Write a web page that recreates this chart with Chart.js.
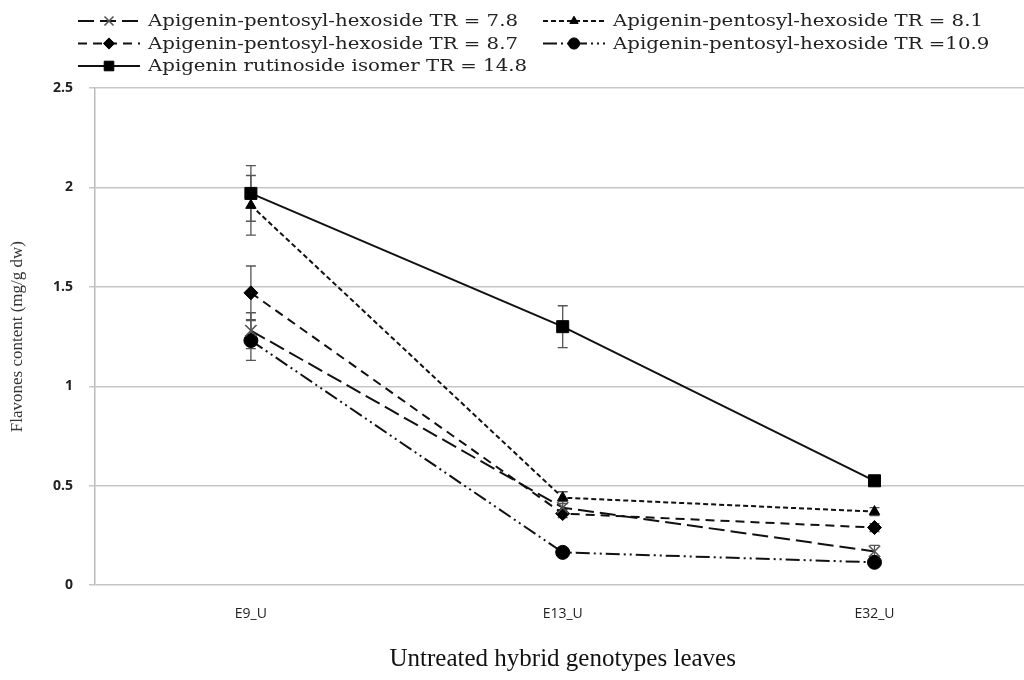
<!DOCTYPE html>
<html>
<head>
<meta charset="utf-8">
<script src="https://cdn.jsdelivr.net/npm/chart.js@4"></script>
<style>
  html, body { margin: 0; padding: 0; background: #fff; overflow: hidden; }
  #wrap { width: 1040px; height: 680px; }
</style>
</head>
<body>
<div id="wrap"><canvas id="chart"></canvas></div>
<script>
// values (mg/g dw)
const genotypes = ['E9_U', 'E13_U', 'E32_U'];
const yTicks = [0, 0.5, 1, 1.5, 2, 2.5];

const names = [
  'Apigenin-pentosyl-hexoside TR = 7.8',
  'Apigenin-pentosyl-hexoside TR = 8.1',
  'Apigenin-pentosyl-hexoside TR = 8.7',
  'Apigenin-pentosyl-hexoside TR =10.9',
  'Apigenin rutinoside isomer TR = 14.8'
];

const tr78 = [1.28, 0.39, 0.17];
const tr78Err = [0.09, 0.03, 0.03];
const tr81 = [1.91, 0.44, 0.37];
const tr81Err = [0.15, 0.03, 0.02];
const tr87 = [1.47, 0.36, 0.29];
const tr87Err = [0.135, 0.02, 0.02];
const tr109 = [1.23, 0.165, 0.115];
const tr109Err = [0.1, 0.01, 0.015];
const tr148 = [1.97, 1.30, 0.525];
const tr148Err = [0.14, 0.105, 0.02];

function series(label, data, errors, dash, style, radius, extra) {
  return Object.assign({
    label: label,
    data: data,
    errors: errors,
    borderColor: '#111',
    borderWidth: 2,
    borderDash: dash,
    pointStyle: style,
    pointRadius: radius,
    pointHoverRadius: radius,
    pointBackgroundColor: '#000',
    pointBorderColor: '#000',
    pointBorderWidth: 1,
    fill: false,
    tension: 0
  }, extra || {});
}

const errorBars = {
  id: 'errorBars',
  beforeDatasetsDraw(chart) {
    const ctx = chart.ctx;
    const y = chart.scales.y;
    ctx.save();
    ctx.strokeStyle = '#555';
    ctx.lineWidth = 1.3;
    chart.data.datasets.forEach((ds, i) => {
      chart.getDatasetMeta(i).data.forEach((pt, j) => {
        const top = y.getPixelForValue(ds.data[j] + ds.errors[j]);
        const bot = y.getPixelForValue(ds.data[j] - ds.errors[j]);
        ctx.beginPath();
        ctx.moveTo(pt.x, top); ctx.lineTo(pt.x, bot);
        ctx.moveTo(pt.x - 5, top); ctx.lineTo(pt.x + 5, top);
        ctx.moveTo(pt.x - 5, bot); ctx.lineTo(pt.x + 5, bot);
        ctx.stroke();
      });
    });
    ctx.restore();
  }
};

// excel style legend: line sample with the marker in the middle
const sampleLegend = {
  id: 'sampleLegend',
  afterDraw(chart, args, opts) {
    const ctx = chart.ctx;
    ctx.save();
    ctx.font = opts.font;
    const sx = opts.textWidth / ctx.measureText(chart.data.datasets[0].label).width;
    chart.data.datasets.forEach((ds, i) => {
      const x = opts.left + (i % 2) * opts.colWidth;
      const y = opts.top + Math.floor(i / 2) * opts.rowHeight;
      ctx.strokeStyle = '#111';
      ctx.lineWidth = 2;
      ctx.setLineDash(ds.borderDash);
      ctx.beginPath();
      ctx.moveTo(x, y);
      ctx.lineTo(x + opts.sampleWidth, y);
      ctx.stroke();
      ctx.setLineDash([]);
      ctx.fillStyle = ds.pointBackgroundColor;
      ctx.strokeStyle = ds.pointBorderColor;
      ctx.lineWidth = ds.pointBorderWidth;
      Chart.helpers.drawPoint(ctx, {
        pointStyle: ds.pointStyle,
        radius: ds.pointRadius * 0.8,
        borderWidth: ds.pointBorderWidth,
        rotation: 0
      }, x + opts.sampleWidth / 2, y);
      ctx.save();
      ctx.translate(x + opts.sampleWidth + opts.gap, y + 1);
      ctx.scale(sx, 1);
      ctx.fillStyle = '#222';
      ctx.textBaseline = 'middle';
      ctx.fillText(ds.label, 0, 0);
      ctx.restore();
    });
    ctx.restore();
  }
};

new Chart(document.getElementById('chart'), {
  type: 'line',
  data: {
    labels: genotypes,
    datasets: [
      series(names[0], tr78, tr78Err, [16, 6], 'crossRot', 8,
        { pointBorderColor: '#555', pointBorderWidth: 1.6, pointBackgroundColor: 'rgba(0,0,0,0)' }),
      series(names[1], tr81, tr81Err, [5, 3], 'triangle', 6),
      series(names[2], tr87, tr87Err, [9, 6], 'rectRot', 7),
      series(names[3], tr109, tr109Err, [14, 4, 2, 4, 2, 4], 'circle', 7),
      series(names[4], tr148, tr148Err, [], 'rect', 8.5)
    ]
  },
  options: {
    responsive: true,
    maintainAspectRatio: false,
    animation: false,
    layout: { padding: { top: 88, right: 8, bottom: 6, left: 0 } },
    plugins: {
      legend: { display: false },
      tooltip: { enabled: false },
      sampleLegend: {
        left: 78, top: 21, colWidth: 465, rowHeight: 22.5,
        sampleWidth: 62, gap: 8, textWidth: 370, font: '16px "DejaVu Serif"'
      }
    },
    scales: {
      x: {
        offset: true,
        grid: { display: false, drawTicks: false, offset: true },
        border: { display: false },
        ticks: { padding: 20, color: '#222', font: { family: 'Open Sans', size: 14 } },
        title: {
          display: true,
          text: 'Untreated hybrid genotypes leaves',
          color: '#111',
          font: { family: 'Liberation Serif', size: 25 },
          padding: { top: 2, bottom: 0 }
        }
      },
      y: {
        min: 0,
        max: 2.5,
        afterFit(scale) { scale.width = 95; },
        afterBuildTicks(scale) { scale.ticks = yTicks.map(v => ({ value: v })); },
        border: { display: true, color: '#bbb', width: 1.5 },
        grid: { color: '#c6c6c6', lineWidth: 1.5, tickLength: 6 },
        ticks: {
          padding: 16,
          color: '#222',
          font: { family: 'Open Sans', size: 14, weight: 'bold' },
          callback: (v) => String(v)
        },
        title: {
          display: true,
          text: 'Flavones content (mg/g dw)',
          color: '#333',
          font: { family: 'Liberation Serif', size: 17 },
          padding: { top: 7, bottom: 0 }
        }
      }
    }
  },
  plugins: [errorBars, sampleLegend]
});
</script>
</body>
</html>
